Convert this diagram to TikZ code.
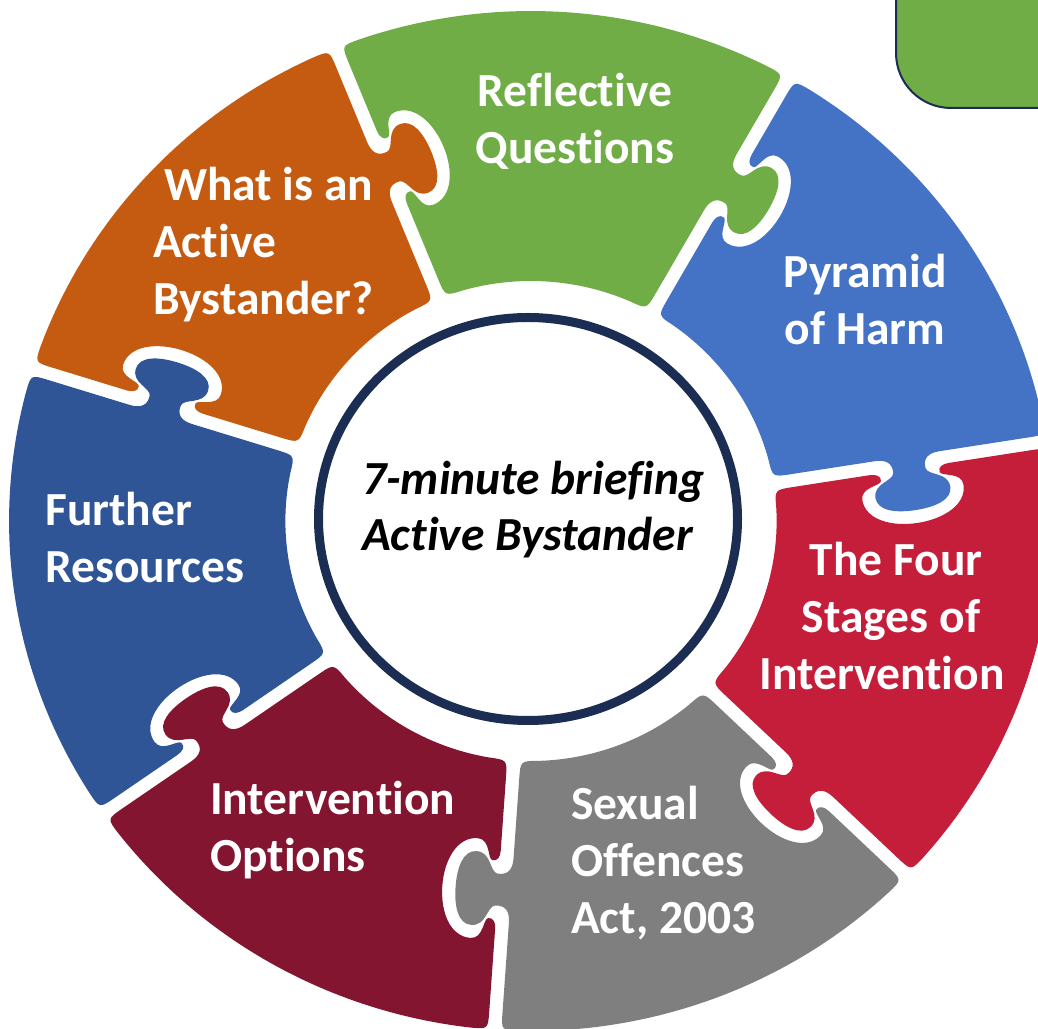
\documentclass[tikz,border=0pt]{standalone}
\usepackage{fontspec}
\setmainfont{Carlito}[Ligatures=NoCommon]
\usetikzlibrary{calc}
\definecolor{cOrange}{HTML}{C55A11}
\definecolor{cGreen}{HTML}{70AD47}
\definecolor{cBlue}{HTML}{4472C4}
\definecolor{cRed}{HTML}{C41E3A}
\definecolor{cGray}{HTML}{7F7F7F}
\definecolor{cMaroon}{HTML}{831531}
\definecolor{cNavy}{HTML}{2F5597}
\definecolor{cRim}{HTML}{1B2D52}
\begin{document}
\begin{tikzpicture}[x=1pt,y=1pt,
  lbl/.style={text=white, font=\bfseries\fontsize{47.5}{57}\selectfont, inner sep=0pt},
  ctr/.style={text=black, font=\bfseries\itshape\fontsize{47.5}{56}\selectfont, inner sep=0pt},
  rim/.style={draw=cRim, line width=9pt, fill=white},
  tag/.style={draw=cRim, line width=2pt, fill=cGreen, rounded corners=55pt}]
\useasboundingbox (0,0) rectangle (1038,1028);
\clip (0,0) rectangle (1038,1028);
\coordinate (C) at (531,507);
\def\sx{1.0235}
\def\Ro{510}
\def\Ri{240}
\def\hg{6.5}
\def\crad{18}
\pgfmathsetmacro\Rox{\sx*\Ro}
\pgfmathsetmacro\Rix{\sx*\Ri}
\pgfmathsetmacro\dOut{(\hg+\crad)/\Ro*180/pi}
\pgfmathsetmacro\dIn{(\hg+\crad)/\Ri*180/pi}
% boundary frames: x radial, y normal (counter-clockwise)
\foreach \k/\A/\M in {1/9/373,2/60.4/386,3/112/379,4/162.6/377,5/215/378,6/266/370,7/316/372}{
  \begin{scope}[shift={(C)},xscale=\sx,rotate=\A]
    \coordinate (b\k-a)   at (\Ri+\crad,\hg);
    \coordinate (b\k-ac)  at (\Ri,\hg);
    \coordinate (b\k-b)   at (\Ro-\crad,\hg);
    \coordinate (b\k-bc)  at (\Ro,\hg);
    \coordinate (b\k-o)   at (\dOut:\Ro);
    \coordinate (b\k-sa)  at (\Ri+\crad,-\hg);
    \coordinate (b\k-sac) at (\Ri,-\hg);
    \coordinate (b\k-sb)  at (\Ro-\crad,-\hg);
    \coordinate (b\k-sbc) at (\Ro,-\hg);
    \coordinate (b\k-si)  at (-\dIn:\Ri);
    \foreach \nm/\px/\py in {k0/-32/6.5,k1/-21/6.5,k2/-15/2,k3/-16/-8,k4/-17/-16,k5/-37/-15,k6/-37/-30,
        k7/-37/-43,k8/-20/-48,k9/0/-48,k10/20/-48,k11/37/-43,k12/37/-30,k13/37/-15,k14/17/-16,k15/16/-8,
        k16/15/2,k17/21/6.5,k18/32/6.5,
        s0/39/-6.5,s1/33/-6.5,s2/28/-9,s3/29/-14,s4/30/-19,s5/50/-17,s6/50/-30,s7/50/-50,s8/26/-61,
        s9/0/-61,s10/-26/-61,s11/-50/-50,s12/-50/-30,s13/-50/-17,s14/-30/-19,s15/-29/-14,s16/-28/-9,
        s17/-33/-6.5,s18/-39/-6.5}{
      \coordinate (b\k-\nm) at (\M+\px,\py);
    }
  \end{scope}
}
% puzzle pieces
\foreach \k/\n/\As/\Ae/\col in {1/2/9/60.4/cBlue,2/3/60.4/112/cGreen,3/4/112/162.6/cOrange,
    4/5/162.6/215/cNavy,5/6/215/266/cMaroon,6/7/266/316/cGray,7/1/316/369/cRed}{
  \pgfmathsetmacro\aOs{\As+\dOut}
  \pgfmathsetmacro\aOe{\Ae-\dOut}
  \pgfmathsetmacro\aIs{\Ae-\dIn}
  \pgfmathsetmacro\aIe{\As+\dIn}
  \fill[\col] (b\k-a) -- (b\k-k0)
    .. controls (b\k-k1) and (b\k-k2) .. (b\k-k3)
    .. controls (b\k-k4) and (b\k-k5) .. (b\k-k6)
    .. controls (b\k-k7) and (b\k-k8) .. (b\k-k9)
    .. controls (b\k-k10) and (b\k-k11) .. (b\k-k12)
    .. controls (b\k-k13) and (b\k-k14) .. (b\k-k15)
    .. controls (b\k-k16) and (b\k-k17) .. (b\k-k18)
    -- (b\k-b) .. controls (b\k-bc) .. (b\k-o)
    arc[start angle=\aOs, end angle=\aOe, x radius=\Rox, y radius=\Ro]
    .. controls (b\n-sbc) .. (b\n-sb)
    -- (b\n-s0)
    .. controls (b\n-s1) and (b\n-s2) .. (b\n-s3)
    .. controls (b\n-s4) and (b\n-s5) .. (b\n-s6)
    .. controls (b\n-s7) and (b\n-s8) .. (b\n-s9)
    .. controls (b\n-s10) and (b\n-s11) .. (b\n-s12)
    .. controls (b\n-s13) and (b\n-s14) .. (b\n-s15)
    .. controls (b\n-s16) and (b\n-s17) .. (b\n-s18)
    -- (b\n-sa) .. controls (b\n-sac) .. (b\n-si)
    arc[start angle=\aIs, end angle=\aIe, x radius=\Rix, y radius=\Ri]
    .. controls (b\k-ac) .. (b\k-a) -- cycle;
}
% centre disc
\draw[rim] (528,509) ellipse [x radius=209.5, y radius=201.5];
% corner tag
\draw[tag] (896,920) rectangle (1120,1100);
% labels (anchor base = baseline of the last line)
\node[lbl, align=center, anchor=base] (tRefl) at (575,864) {Reflective\\Questions};
\node[lbl, align=center, anchor=base] (tPyr) at (865,683) {Pyramid\\of Harm};
\node[lbl, align=center, anchor=base] (tFour) at (882,338) {\hspace*{28pt}The Four\\\hspace*{18pt}Stages of\\Intervention};
\node[lbl, align=left, anchor=base west] (tSex) at (571,95) {Sexual\\Offences\\Act, 2003};
\node[lbl, align=left, anchor=base west] (tOpt) at (210,157) {Intervention\\Options};
\node[lbl, align=left, anchor=base west] (tRes) at (45,445) {Further\\Resources};
\node[lbl, align=left, anchor=base west] (tWhat) at (153,713) {\hspace*{11pt}What is an\\Active\\Bystander?};
\node[ctr, align=left, anchor=base west] (tCtr) at (362,477) {7-minute briefing\\Active Bystander};
\end{tikzpicture}
\end{document}
